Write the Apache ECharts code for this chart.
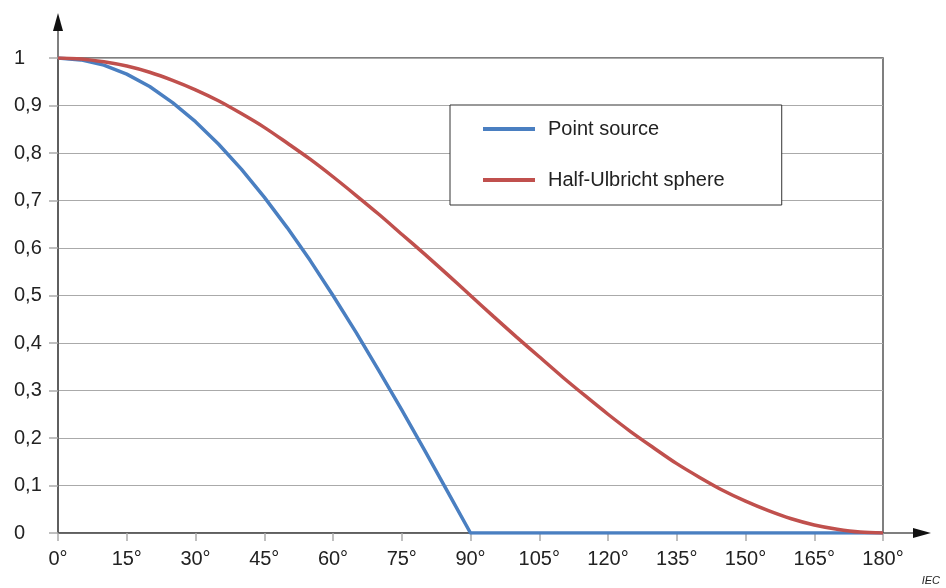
<!DOCTYPE html>
<html><head><meta charset="utf-8">
<script src="https://cdn.jsdelivr.net/npm/echarts@6/dist/echarts.min.js"></script>
<style>html,body{margin:0;padding:0;background:#fff}#c{width:946px;height:588px}</style>
</head><body><div id="c"></div>
<script>
const angles = [0,5,10,15,20,25,30,35,40,45,50,55,60,65,70,75,80,85,90,95,100,105,110,115,120,125,130,135,140,145,150,155,160,165,170,175,180];
const pointSource = [1,0.996,0.985,0.966,0.94,0.906,0.866,0.819,0.766,0.707,0.643,0.574,0.5,0.423,0.342,0.259,0.174,0.087,0,0,0,0,0,0,0,0,0,0,0,0,0,0,0,0,0,0,0];
const halfUlbricht = [1,0.998,0.992,0.983,0.97,0.953,0.933,0.91,0.883,0.854,0.821,0.787,0.75,0.711,0.671,0.629,0.587,0.544,0.5,0.456,0.413,0.371,0.329,0.289,0.25,0.213,0.179,0.146,0.117,0.09,0.067,0.047,0.03,0.017,0.008,0.002,0];
const seriesNames = ['Point source','Half-Ulbricht sphere'];
const xTickStep = 15;
const yTickStep = 0.1;

const font = 'Liberation Sans, Arial, sans-serif';
const chart = echarts.init(document.getElementById('c'), null, {renderer:'canvas'});
const zip = (xs, ys) => xs.map((x,i)=>[x, ys[i]]);
const option = {
  animation:false,
  textStyle:{fontFamily:font},
  grid:{left:58, top:58, right:63, bottom:55, show:true, borderColor:'#555', borderWidth:1.5},
  legend:{
    left:450, top:105, orient:'vertical',
    padding:[14,57,15,33], itemGap:31,
    backgroundColor:'#fff', borderColor:'#333', borderWidth:1,
    icon:'rect', itemWidth:52, itemHeight:4,
    textStyle:{fontSize:20, color:'#222', fontFamily:font, padding:[0,0,0,8]},
    data:seriesNames
  },
  xAxis:{type:'value', min:0, max:180, interval:xTickStep,
    axisLine:{show:true, lineStyle:{color:'#555', width:1.5}},
    axisTick:{show:true, length:8, lineStyle:{color:'#aaa', width:1.5}},
    axisLabel:{formatter:v=>v+'°', fontSize:20, color:'#222', margin:16},
    splitLine:{show:false}},
  yAxis:{type:'value', min:0, max:1, interval:yTickStep,
    axisLine:{show:true, lineStyle:{color:'#555', width:1.5}},
    axisTick:{show:true, length:9, lineStyle:{color:'#aaa', width:1.5}},
    axisLabel:{formatter:v=>String(+v.toFixed(1)).replace('.',','), fontSize:20, color:'#222', align:'left', margin:44},
    splitLine:{show:true, lineStyle:{color:'#aaa', width:1.2}}},
  series:[
    {name:seriesNames[0], type:'line', data:zip(angles,pointSource), smooth:false, showSymbol:false,
      lineStyle:{color:'#4a7fc1', width:3.5, join:'round'}, itemStyle:{color:'#4a7fc1'}},
    {name:seriesNames[1], type:'line', data:zip(angles,halfUlbricht), smooth:0.3, showSymbol:false,
      lineStyle:{color:'#c0504d', width:3.5}, itemStyle:{color:'#c0504d'}}
  ]
};
chart.setOption(option);
// axis arrows positioned from the axes' own scale
const o = chart.convertToPixel({gridIndex:0}, [0,0]);
const tr = chart.convertToPixel({gridIndex:0}, [180,1]);
chart.setOption({graphic:[
  {type:'line', shape:{x1:o[0], y1:tr[1], x2:o[0], y2:tr[1]-30}, style:{stroke:'#555', lineWidth:1.5}},
  {type:'polygon', shape:{points:[[o[0],tr[1]-45],[o[0]-5,tr[1]-27],[o[0]+5,tr[1]-27]]}, style:{fill:'#111'}},
  {type:'line', shape:{x1:tr[0], y1:o[1], x2:tr[0]+32, y2:o[1]}, style:{stroke:'#555', lineWidth:1.5}},
  {type:'polygon', shape:{points:[[tr[0]+48,o[1]],[tr[0]+30,o[1]-5],[tr[0]+30,o[1]+5]]}, style:{fill:'#111'}},
  {type:'text', right:6, bottom:2, style:{text:'IEC', font:'italic 11px '+font, fill:'#222'}}
]});
</script></body></html>
